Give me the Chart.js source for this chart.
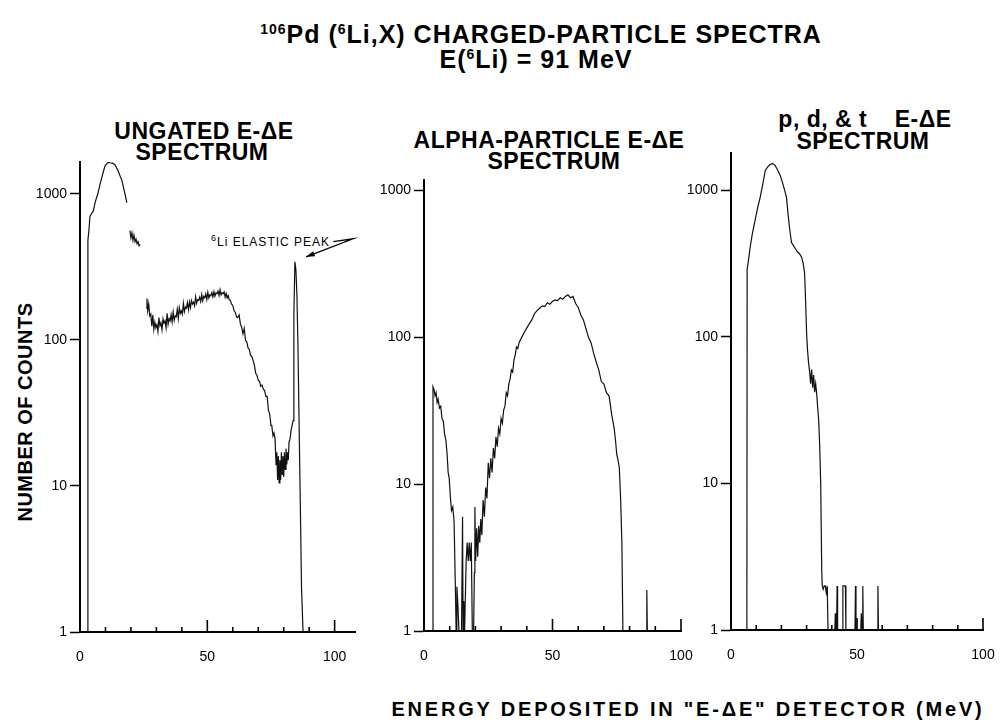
<!DOCTYPE html>
<html>
<head>
<meta charset="utf-8">
<title>106Pd (6Li,X) charged-particle spectra</title>
<script src="https://cdn.jsdelivr.net/npm/chart.js@4.4.1/dist/chart.umd.min.js"></script>
<style>
  body { margin: 0; background: #fff; }
  #page { position: relative; width: 1000px; height: 725px; overflow: hidden; }
  .t {
    position: absolute; text-align: center; white-space: nowrap; color: #000;
    font-family: 'Liberation Sans', Arial, sans-serif; font-weight: bold;
    font-size: 23px; line-height: 24px; letter-spacing: 0.5px;
  }
  .t sup { font-size: 14px; line-height: 0; vertical-align: 9px; }
  .main { font-size: 25px; line-height: 26px; letter-spacing: 1px; }
  .panel { position: absolute; }
  #note { font-size: 12px; font-weight: normal; line-height: 14px; letter-spacing: 1px; text-align: left; }
  #note sup { font-size: 9px; vertical-align: 5px; }
</style>
</head>
<body>
<div id="page">
  <div class="t main" style="left:241px; top:21px; width:600px;"><sup>106</sup>Pd (<sup>6</sup>Li,X) CHARGED-PARTICLE SPECTRA</div>
  <div class="t main" style="left:336px; top:46px; width:400px;">E(<sup>6</sup>Li) = 91 MeV</div>

  <div class="t" style="left:54px; top:119px; width:300px;">UNGATED E-ΔE</div>
  <div class="t" style="left:52px; top:140px; width:300px;">SPECTRUM</div>
  <div class="t" style="left:399px; top:128px; width:300px;">ALPHA-PARTICLE E-ΔE</div>
  <div class="t" style="left:404px; top:149px; width:300px;">SPECTRUM</div>
  <div class="t" style="left:715px; top:107px; width:300px;">p, d, &amp; t&nbsp;&nbsp;&nbsp; E-ΔE</div>
  <div class="t" style="left:713px; top:129px; width:300px;">SPECTRUM</div>

  <div class="t" style="left:25px; top:412px; font-size:20px; letter-spacing:0.5px; transform:translate(-50%,-50%) rotate(-90deg);">NUMBER OF COUNTS</div>
  <div class="t" style="left:388px; top:697px; width:600px; font-size:20px; letter-spacing:2.8px;">ENERGY DEPOSITED IN "E-ΔE" DETECTOR (MeV)</div>

  <div class="t" id="note" style="left:211px; top:235px;"><sup>6</sup>Li ELASTIC PEAK</div>

  <div class="panel" style="left:20px; top:158px; width:351px; height:504px;"><canvas id="ungated"></canvas></div>
  <div class="panel" style="left:364px; top:176px; width:333px; height:485px;"><canvas id="alpha"></canvas></div>
  <div class="panel" style="left:671px; top:149px; width:328px; height:511px;"><canvas id="pdt"></canvas></div>
</div>

<script>
// tick values / labels
const yTicks = [1, 10, 100, 1000];
const xMinorTicks = [10, 20, 30, 40, 50, 60, 70, 80, 90, 100];
const xLabels = [0, 50, 100];

// ungated E-dE spectrum (null = gap in the trace)
const ungatedE = [3.0, 3.1, 3.5, 3.9, 4.5, 5.2, 6.0, 7.0, 7.8, 8.6, 9.2, 9.8, 10.6, 11.2, 11.8, 12.8, 13.7, 14.4, 15.0, 15.7, 16.4, 17.1, 17.7, 18.4, 18.5,
  19.6, 20.0, 20.4, 20.8, 21.2, 21.6, 22.0, 22.4, 22.8, 23.2, 23.6, 23.7,
  26.0, 26.3, 26.6, 27.0, 27.4, 27.8, 28.2, 28.6, 29.0, 29.4, 29.8, 30.2, 30.6, 31.0, 31.4, 31.8, 32.2, 32.6, 33.0, 33.4, 33.8,
  34.2, 34.6, 35.0, 35.4, 35.8, 36.2, 36.6, 37.0, 37.4, 37.8, 38.2, 38.6, 39.0, 39.4, 39.8, 40.2, 40.6, 41.0, 41.4, 41.8,
  42.2, 42.6, 43.0, 43.4, 43.8, 44.2, 44.6, 45.0, 45.4, 45.8, 46.2, 46.6, 47.0, 47.4, 47.8, 48.2, 48.6, 49.0, 49.4, 49.8,
  50.2, 50.6, 51.0, 51.4, 51.8, 52.2, 52.6, 53.0, 53.4, 53.8, 54.2, 54.6, 55.0, 55.4, 55.8, 56.2, 56.6, 57.0, 57.4, 57.8,
  58.2, 58.6, 59.0, 59.5, 60.0, 60.5, 61.0, 61.5, 62.0, 62.5, 63.0, 63.5, 64.0, 64.5, 65.0, 65.5, 66.0, 66.5, 67.0, 67.5,
  68.0, 68.5, 69.0, 69.5, 70.0, 70.5, 71.0, 71.5, 72.0, 72.5, 73.0, 73.5, 74.0, 74.5, 75.0, 75.3, 75.8, 76.2, 76.6, 77.0,
  77.3, 77.6, 77.9, 78.2, 78.5, 78.8, 79.1, 79.4, 79.7, 80.0, 80.3, 80.6, 80.9, 81.2, 81.5, 81.8, 82.1, 82.5, 82.9, 83.3,
  83.7, 84.0, 84.4, 84.8, 85.2, 85.6, 86.0, 86.5, 87.0, 87.6];
const ungatedN = [1, 480, 560, 700, 730, 760, 880, 1000, 1150, 1300, 1420, 1550, 1610, 1640, 1630, 1620, 1580, 1500, 1430, 1330, 1240, 1100, 990, 870, null,
  560, 500, 540, 480, 520, 470, 490, 455, 470, 440, 450, null,
  165, 192, 158, 176, 146, 150, 124, 148, 118, 132, 121, 127, 114, 142, 125, 131, 117, 139, 130, 135, 121,
  152, 128, 140, 135, 149, 133, 155, 136, 146, 144, 162, 140, 166, 152, 158, 150, 178, 156, 168, 165,
  180, 161, 182, 166, 186, 176, 181, 171, 197, 178, 188, 186, 196, 183, 204, 185, 199, 194, 206, 189,
  212, 194, 203, 200, 211, 197, 214, 199, 210, 207, 216, 201, 220, 203, 210, 207, 213, 196, 208, 194,
  201, 188, 187, 176, 172, 158, 154, 143, 142, 148, 128, 122, 110, 120, 99, 97, 88, 86, 78, 77,
  72, 67, 59, 57, 53, 52, 48, 49, 46, 45, 41, 41, 33, 31, 26, 26, 22, 23, 21, 14,
  17, 11, 16, 10.5, 15, 11, 17, 12, 16, 11.5, 17, 13, 18, 14, 17, 15, 20, 21, 24, 26,
  28, 150, 342, 300, 200, 90, 30, 8, 2, 1];

// alpha-particle E-dE spectrum
const alphaE = [3.3, 3.5, 3.9, 4.3, 4.7, 5.1, 5.5, 6.0, 6.5, 7.0, 7.5, 8.0, 8.5, 9.0, 9.4, 9.8, 10.3, 10.7, 11.2, 11.7,
  12.2, 12.5, 12.8, 13.2, 13.6, 14.6, 15.0, 15.2, 15.5, 15.8, 16.4, 16.8, 17.2, 17.6, 18.0, 18.4, 18.8, 19.3, 19.6, 19.8,
  20.1, 20.5, 20.9, 21.3, 21.7, 22.1, 22.5, 23.0, 23.5, 24.0, 24.5, 25.0, 25.5, 26.0, 26.5, 27.0, 27.5, 28.0, 28.5, 29.0,
  29.5, 30.0, 30.5, 31.0, 31.5, 32.0, 32.5, 33.0, 33.5, 34.0, 34.5, 35.0, 35.5, 36.0, 36.5, 37.0, 37.5, 38.0, 39.0, 40.0,
  41.0, 42.0, 43.0, 44.0, 45.0, 46.0, 47.0, 48.0, 49.0, 50.0, 51.0, 52.0, 53.0, 54.0, 55.0, 56.0, 57.0, 58.0, 59.0, 60.0,
  61.0, 62.0, 63.0, 64.0, 65.0, 66.0, 67.0, 68.0, 69.0, 70.0, 71.0, 72.0, 73.0, 74.0, 74.5, 75.0, 75.5, 76.0, 76.5, 77.0,
  77.4, 86.5, 86.7, 86.9];
const alphaN = [1, 46, 44, 40, 42, 36, 38, 33, 34, 28, 27, 22, 20, 16, 12, 11, 8, 6.6, 7, 5.6,
  2, 1, 2, 1.5, 1, 1, 6, 1, 1.6, 1, 3, 4, 3, 4, 3, 4, 1, 1, 2.5, 7,
  3, 5, 3.2, 5.2, 4, 5.8, 4.5, 7.8, 6, 9.5, 8, 14, 11, 15, 12, 17.6, 15, 21, 18, 24,
  22, 28, 26, 32, 34, 42, 40, 48, 52, 60, 58, 70, 76, 86, 84, 92, 96, 100, 108, 116,
  124, 132, 145, 152, 158, 164, 162, 172, 168, 176, 180, 178, 186, 182, 190, 195, 186, 190, 170, 160,
  142, 132, 115, 100, 92, 78, 68, 60, 50, 48, 42, 40, 30, 24, 20, 16, 14.5, 13, 8, 4,
  1, 1, 1.9, 1];

// p, d & t E-dE spectrum
const pdtE = [6.3, 6.4, 7.0, 7.6, 8.5, 9.6, 10.5, 11.6, 12.6, 13.6, 14.5, 15.5, 16.5, 17.5, 18.5, 19.5, 20.5, 21.3, 22.0, 22.6,
  23.2, 24.0, 24.8, 25.6, 26.4, 27.2, 28.0, 28.6, 29.2, 29.6, 30.0, 30.4, 30.8, 31.2, 31.6, 32.0, 32.4, 32.8, 33.2, 33.6,
  34.0, 34.4, 34.8, 35.2, 35.6, 36.0, 36.2, 36.6, 37.0, 37.4, 37.8, 38.2, 38.5, 41.2, 41.4, 41.6, 41.9, 42.1, 42.3, 44.2,
  44.4, 44.9, 45.4, 45.6, 49.2, 49.4, 49.6, 51.5, 51.7, 52.1, 52.3, 52.5, 58.1, 58.3, 58.5];
const pdtN = [1, 290, 340, 410, 510, 630, 750, 900, 1100, 1370, 1440, 1500, 1530, 1480, 1380, 1270, 1120, 1000, 900, 700,
  560, 440, 420, 400, 380, 370, 350, 320, 273, 178, 106, 80, 66, 58, 48, 60, 45, 55, 42, 48,
  41, 33, 27, 18, 10, 2.6, 2, 1.9, 2, 2, 1.8, 2, 1, 1, 1.3, 1, 1, 2, 1, 1,
  2, 2, 2, 1, 1, 2, 1, 1, 1.3, 1, 2, 1, 1, 2, 1];

const tickFont = { family: "'Liberation Sans', Arial, sans-serif", size: 14 };

// x ticks point inward (up) from the axis, longer at 50 and 100
const inwardTicks = {
  id: 'inwardTicks',
  afterDraw(chart) {
    const xs = chart.scales.x, bottom = chart.chartArea.bottom;
    const ctx = chart.ctx;
    ctx.save();
    ctx.strokeStyle = '#000';
    ctx.lineWidth = 1.6;
    xMinorTicks.forEach(v => {
      const px = xs.getPixelForValue(v);
      const len = v % 50 === 0 ? 12 : 5;
      ctx.beginPath();
      ctx.moveTo(px, bottom);
      ctx.lineTo(px, bottom - len);
      ctx.stroke();
    });
    ctx.restore();
  }
};

// arrow for the 6Li elastic peak label (first panel only)
const peakArrow = {
  id: 'peakArrow',
  afterDraw(chart) {
    const xs = chart.scales.x, ys = chart.scales.y, ctx = chart.ctx;
    const tail = [xs.getPixelForValue(99.5), ys.getPixelForValue(470)];
    const elbow = [xs.getPixelForValue(107.2), ys.getPixelForValue(492)];
    const tip = [xs.getPixelForValue(88.8), ys.getPixelForValue(370)];
    ctx.save();
    ctx.strokeStyle = '#000';
    ctx.fillStyle = '#000';
    ctx.lineWidth = 1.3;
    ctx.beginPath();
    ctx.moveTo(tail[0], tail[1]);
    ctx.lineTo(elbow[0], elbow[1]);
    ctx.lineTo(tip[0], tip[1]);
    ctx.stroke();
    const ang = Math.atan2(tip[1] - elbow[1], tip[0] - elbow[0]);
    ctx.beginPath();
    ctx.moveTo(tip[0], tip[1]);
    ctx.lineTo(tip[0] - 9 * Math.cos(ang - 0.3), tip[1] - 9 * Math.sin(ang - 0.3));
    ctx.lineTo(tip[0] - 9 * Math.cos(ang + 0.3), tip[1] - 9 * Math.sin(ang + 0.3));
    ctx.closePath();
    ctx.fill();
    ctx.restore();
  }
};

// keep tick labels from pushing the plot area in
function noLabelPadding(s) {
  s.paddingTop = 0;
  s.paddingBottom = 0;
  s.paddingLeft = 0;
  s.paddingRight = 0;
}

function makePanel(id, xs, ys, xMax, yMax, extraPlugins) {
  const ctx = document.getElementById(id).getContext('2d');
  return new Chart(ctx, {
    type: 'line',
    data: {
      datasets: [{
        data: xs.map((x, i) => ({ x: x, y: ys[i] })),
        borderColor: '#111',
        borderWidth: 1.2,
        pointRadius: 0,
        spanGaps: false,
        tension: 0
      }]
    },
    options: {
      responsive: true,
      maintainAspectRatio: false,
      animation: false,
      layout: { padding: { top: 4, right: 16, left: 0, bottom: 0 } },
      plugins: {
        legend: { display: false },
        tooltip: { enabled: false }
      },
      scales: {
        x: {
          type: 'linear',
          min: 0,
          max: xMax,
          afterBuildTicks: s => { s.ticks = xLabels.map(v => ({ value: v })); },
          afterFit: s => { s.height = 30; noLabelPadding(s); },
          border: { display: true, color: '#000', width: 2 },
          grid: { display: false },
          ticks: { color: '#000', font: tickFont, padding: 9, maxRotation: 0, autoSkip: false }
        },
        y: {
          type: 'logarithmic',
          min: 1,
          max: yMax,
          afterBuildTicks: s => { s.ticks = yTicks.map(v => ({ value: v })); },
          afterFit: s => { s.width = 60; noLabelPadding(s); },
          border: { display: true, color: '#000', width: 2 },
          grid: { drawOnChartArea: false, drawTicks: true, tickLength: 10, color: '#000', tickWidth: 1.5 },
          ticks: { color: '#000', font: tickFont, padding: 3, callback: v => String(v) }
        }
      }
    },
    plugins: [inwardTicks].concat(extraPlugins || [])
  });
}

makePanel('ungated', ungatedE, ungatedN, 108, 1650, [peakArrow]);
makePanel('alpha', alphaE, alphaN, 100, 1180);
makePanel('pdt', pdtE, pdtN, 100, 1800);
</script>
</body>
</html>
